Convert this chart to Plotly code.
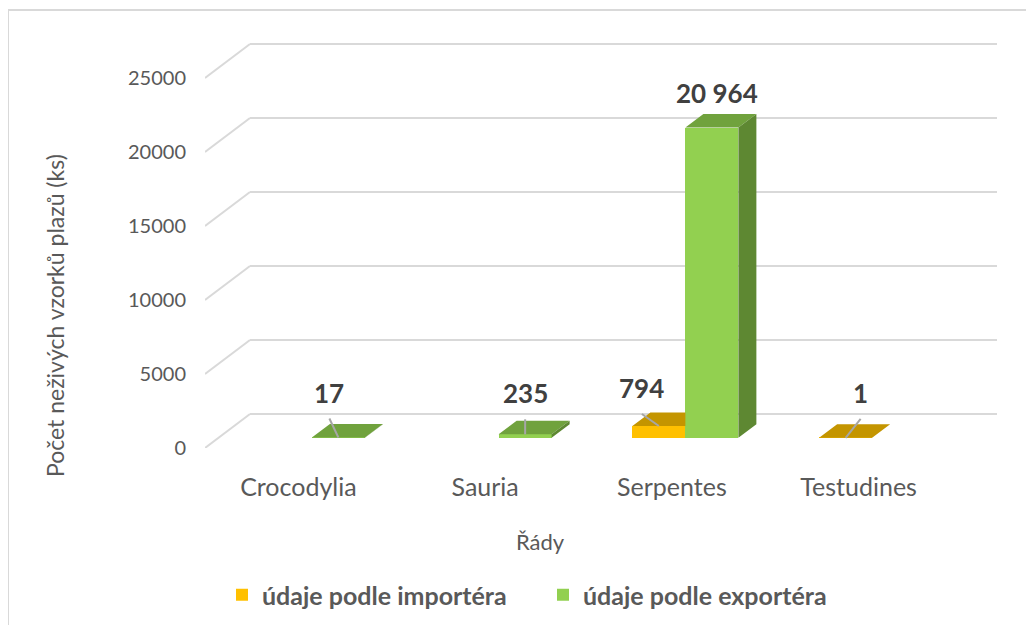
import plotly.graph_objects as go

# ---------------- data ----------------
categories = ["Crocodylia", "Sauria", "Serpentes", "Testudines"]
importer_values = [None, None, 794, 1]
exporter_values = [17, 235, 20964, None]
series_names = ["údaje podle importéra", "údaje podle exportéra"]
y_tick_values = [0, 5000, 10000, 15000, 20000, 25000]
x_title = "Řády"
y_title = "Počet neživých vzorků plazů (ks)"

# ---------------- style / geometry ----------------
W, H = 1034, 625
OFF = 8                          # page body margin of the written html
PLOT_LEFT, PLOT_RIGHT, PLOT_TOP, PLOT_BOTTOM = 205, 1000, 40, 448   # target window pixels
M_L = PLOT_LEFT - OFF
M_T = PLOT_TOP - OFF
M_R = W - (PLOT_RIGHT - OFF)
M_B = H - (PLOT_BOTTOM - OFF)
PLOT_W = PLOT_RIGHT - PLOT_LEFT
PLOT_H = PLOT_BOTTOM - PLOT_TOP
SLOT_PX = 186.75                 # pixels per category slot
PX_PER_UNIT = 370 / 25000        # pixels per value unit
X_MIN = -0.5
X_MAX = X_MIN + PLOT_W / SLOT_PX
Y_MAX = PLOT_H / PX_PER_UNIT
DX = 45 / SLOT_PX                # depth of the floor, x units
DY = 34 / PX_PER_UNIT            # depth of the floor, y units
F0, F1 = 0.30, 0.70              # bar depth fractions
BAR_W = 53 / SLOT_PX
OFFSETS = [-BAR_W / 2, BAR_W / 2]

FRONT = ["#FFC000", "#92D050"]
TOP = ["#C49500", "#70A23D"]
SIDE = ["#A67E00", "#5E8832"]
GRID = "#D9D9D9"
TXT = "#595959"
FONT = "Lato"

# data-label offsets in pixels (dx, dy screen), leader line flag
LABEL_STYLE = {
    (1, 0): (-9, -45, True),
    (1, 1): (0, -41, True),
    (0, 2): (-17, -38, True),
    (1, 2): (5, -35, False),
    (0, 3): (15, -45, True),
}

values = [importer_values, exporter_values]


def px_x(p):
    return p / SLOT_PX


def px_y(p):
    return p / PX_PER_UNIT


def paper_x(px):
    return (px - PLOT_LEFT) / PLOT_W


def paper_y(py):
    return (PLOT_BOTTOM - py) / PLOT_H


fig = go.Figure()

shapes = []
# back wall grid lines and left-side diagonals
for t in y_tick_values:
    shapes.append(dict(type="line", xref="x", yref="y", layer="below",
                       x0=X_MIN + DX, x1=X_MIN + DX + len(categories), y0=t + DY, y1=t + DY,
                       line=dict(color=GRID, width=2)))
    shapes.append(dict(type="line", xref="x", yref="y", layer="below",
                       x0=X_MIN, x1=X_MIN + DX, y0=t, y1=t + DY,
                       line=dict(color=GRID, width=2)))
# chart border
shapes.append(dict(type="rect", xref="paper", yref="paper", layer="below",
                   x0=paper_x(8), x1=paper_x(W + 40), y0=paper_y(H + 40), y1=paper_y(10),
                   line=dict(color=GRID, width=2)))

base = F0 * DY
d = (F1 - F0) * DX
e = (F1 - F0) * DY

# front faces as bars
for k in range(2):
    xs = [i + F0 * DX + OFFSETS[k] for i in range(len(categories))]
    fig.add_trace(go.Bar(
        x=xs, y=values[k], base=base, width=BAR_W, name=series_names[k],
        marker=dict(color=FRONT[k], line=dict(width=0)),
        hoverinfo="skip", showlegend=True))

# top and side faces
for k in range(2):
    tx, ty, sx, sy = [], [], [], []
    for i, v in enumerate(values[k]):
        if v is None:
            continue
        x0 = i + F0 * DX + OFFSETS[k] - BAR_W / 2
        x1 = x0 + BAR_W
        t = base + v
        hidden = k == 0 and values[1][i] is not None and values[1][i] >= v
        if hidden:
            tx += [x0, x1, x1, x0 + d, x0, None]
            ty += [t, t, t + e, t + e, t, None]
        else:
            tx += [x0, x1, x1 + d, x0 + d, x0, None]
            ty += [t, t, t + e, t + e, t, None]
            sx += [x1, x1, x1 + d, x1 + d, x1, None]
            sy += [base, t, t + e, base + e, base, None]
    for X, Y, col in ((tx, ty, TOP[k]), (sx, sy, SIDE[k])):
        if X:
            fig.add_trace(go.Scatter(x=X, y=Y, mode="lines", fill="toself",
                                     fillcolor=col, line=dict(width=0, color=col),
                                     hoverinfo="skip", showlegend=False))

# data labels and leader lines
annotations = []
for k in range(2):
    for i, v in enumerate(values[k]):
        if v is None:
            continue
        cx = i + F0 * DX + OFFSETS[k]
        t = base + v
        dx, dy, leader = LABEL_STYLE[(k, i)]
        annotations.append(dict(x=cx, y=t, xref="x", yref="y", showarrow=False,
                                text=f"{v:,}".replace(",", " "), xshift=dx, yshift=-dy,
                                xanchor="center", yanchor="middle",
                                font=dict(family=FONT, size=26, color="#404040", weight="bold")))
        if leader:
            fig.add_trace(go.Scatter(x=[cx, cx + px_x(dx)], y=[t, t + px_y(-(dy + 26))],
                                     mode="lines", line=dict(color="#A6A6A6", width=2),
                                     hoverinfo="skip", showlegend=False, cliponaxis=False))

annotations.append(dict(x=paper_x(540), y=paper_y(541),
                        xref="paper", yref="paper", showarrow=False, text=x_title,
                        xanchor="center", yanchor="middle",
                        font=dict(family=FONT, size=22, color=TXT)))
annotations.append(dict(x=paper_x(55), y=paper_y(316),
                        xref="paper", yref="paper", showarrow=False, text=y_title,
                        textangle=-90, xanchor="center", yanchor="middle",
                        font=dict(family=FONT, size=23, color=TXT)))

fig.update_layout(
    width=W, height=H,
    margin=dict(l=M_L, r=M_R, t=M_T, b=M_B, autoexpand=False),
    paper_bgcolor="white", plot_bgcolor="white",
    barmode="overlay", bargap=0,
    shapes=shapes, annotations=annotations,
    showlegend=True,
    legend=dict(orientation="h", x=paper_x(222), xanchor="left",
                y=paper_y(595), yanchor="middle",
                entrywidth=276, entrywidthmode="pixels", itemwidth=30,
                font=dict(family=FONT, size=25, color=TXT, weight="bold"),
                itemclick=False, itemdoubleclick=False, traceorder="normal"),
    xaxis=dict(range=[X_MIN, X_MAX], tickvals=list(range(len(categories))), ticktext=categories,
               showgrid=False, zeroline=False, showline=False, ticks="", automargin=False,
               tickfont=dict(family=FONT, size=25, color=TXT), ticklabelstandoff=22),
    yaxis=dict(range=[0, Y_MAX], tickvals=y_tick_values, ticktext=[str(t) for t in y_tick_values],
               showgrid=False, zeroline=False, showline=False, ticks="", automargin=False,
               tickfont=dict(family=FONT, size=20, color=TXT), ticklabelstandoff=18),
    font=dict(family=FONT, color=TXT),
)

fig.write_html("out.html")
